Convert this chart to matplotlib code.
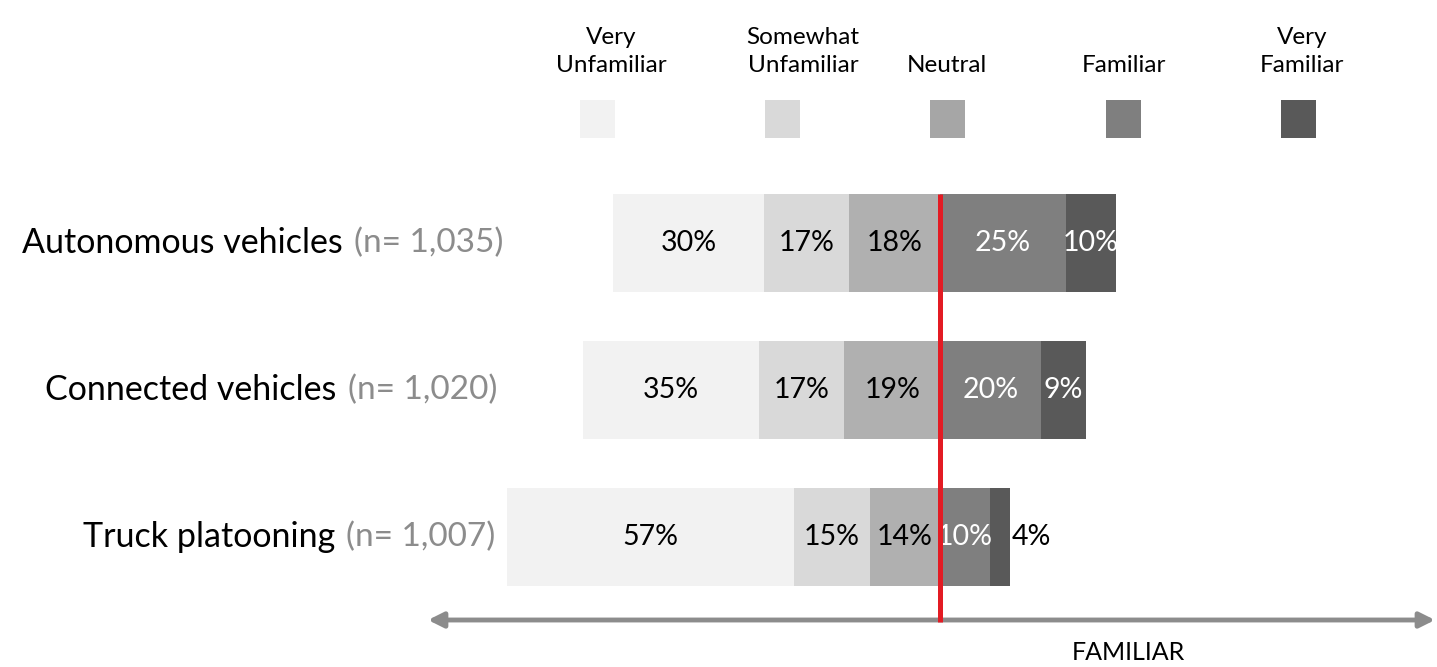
import matplotlib
matplotlib.use("Agg")
import matplotlib.pyplot as plt
from matplotlib.patches import Rectangle
import numpy as np

plt.rcParams['font.family'] = ['Lato', 'DejaVu Sans']

# survey results, percent of respondents
topics = ["Autonomous vehicles", "Connected vehicles", "Truck platooning"]
sample_n = ["(n= 1,035)", "(n= 1,020)", "(n= 1,007)"]
levels = ["Very\nUnfamiliar", "Somewhat\nUnfamiliar", "Neutral", "Familiar", "Very\nFamiliar"]
very_unfam = [30, 35, 57]
some_unfam = [17, 17, 15]
neutral = [18, 19, 14]
familiar = [25, 20, 10]
very_fam = [10, 9, 4]

colors = ["#f2f2f2", "#d9d9d9", "#b0b0b0", "#7f7f7f", "#595959"]
legend_colors = ["#f2f2f2", "#d9d9d9", "#a6a6a6", "#7f7f7f", "#595959"]
txt_colors = ["black", "black", "black", "white", "white"]

W, H = 1437, 667
fig = plt.figure(figsize=(W / 100, H / 100), dpi=100)
ax = fig.add_axes([0, 0, 1, 1])

# zero line sits at x=940px, ~5.03px per percent; rows 147px apart
x0, scale = 940, 5.03
ax.set_xlim(-x0 / scale, (W - x0) / scale)
ax.set_ylim((H - 243) / 147, -243 / 147)
ax.axis("off")


def fig_xy(px, py):
    return px / W, 1 - py / H


y = np.arange(len(topics))
h = 0.67

for i in range(len(topics)):
    neg_total = very_unfam[i] + some_unfam[i] + neutral[i]
    start = -neg_total
    vals = [very_unfam[i], some_unfam[i], neutral[i], familiar[i], very_fam[i]]
    for k, v in enumerate(vals):
        ax.barh(y[i], v, left=start, height=h, color=colors[k], edgecolor="none")
        if k == 4 and v < 6:
            # too narrow, put the label just past the bar end
            ax.text(start + v + 0.3, y[i], f"{v}%", ha="left", va="center",
                    fontsize=20.5, color="black")
        else:
            ax.text(start + v / 2, y[i], f"{v}%", ha="center", va="center",
                    fontsize=20.5, color=txt_colors[k])
        start += v

# red divider at zero
ax.plot([0, 0], [y[0] - h / 2, (622 - 243) / 147], color="#e31b23", lw=3.6,
        solid_capstyle="butt", zorder=5)

# topic labels with sample size in grey
fig.canvas.draw()
renderer = fig.canvas.get_renderer()
n_right = [503, 497, 495]
for i in range(len(topics)):
    yy = 243 + 147 * i
    t = fig.text(*fig_xy(n_right[i], yy), sample_n[i], ha="right", va="center",
                 fontsize=24, color="#8c8c8c")
    bb = t.get_window_extent(renderer)
    fig.text(*fig_xy(bb.x0 - 11, yy), topics[i], ha="right", va="center",
             fontsize=24.5, color="black")

# legend swatches
sw_x = [597, 782, 947, 1123, 1298]
lab_x = [611, 803, 947, 1124, 1302]
for k in range(5):
    cx, cy = fig_xy(sw_x[k] - 17, 138)
    fig.patches.append(Rectangle((cx, cy), 35 / W, 38 / H, transform=fig.transFigure,
                                 facecolor=legend_colors[k], edgecolor="none"))
    fig.text(*fig_xy(lab_x[k], 76), levels[k], ha="center", va="bottom",
             fontsize=17.5, color="black", linespacing=1.4)

# familiarity axis arrow
ax.annotate("", xy=fig_xy(1435, 620), xytext=fig_xy(428, 620),
            xycoords="figure fraction", textcoords="figure fraction",
            arrowprops=dict(arrowstyle="<|-|>,head_length=0.9,head_width=0.45",
                            color="#8c8c8c", lw=3.5, shrinkA=0, shrinkB=0))
fig.text(*fig_xy(1128, 652), "FAMILIAR", ha="center", va="center",
         fontsize=18, color="black")

fig.savefig("out.png", dpi=100)
